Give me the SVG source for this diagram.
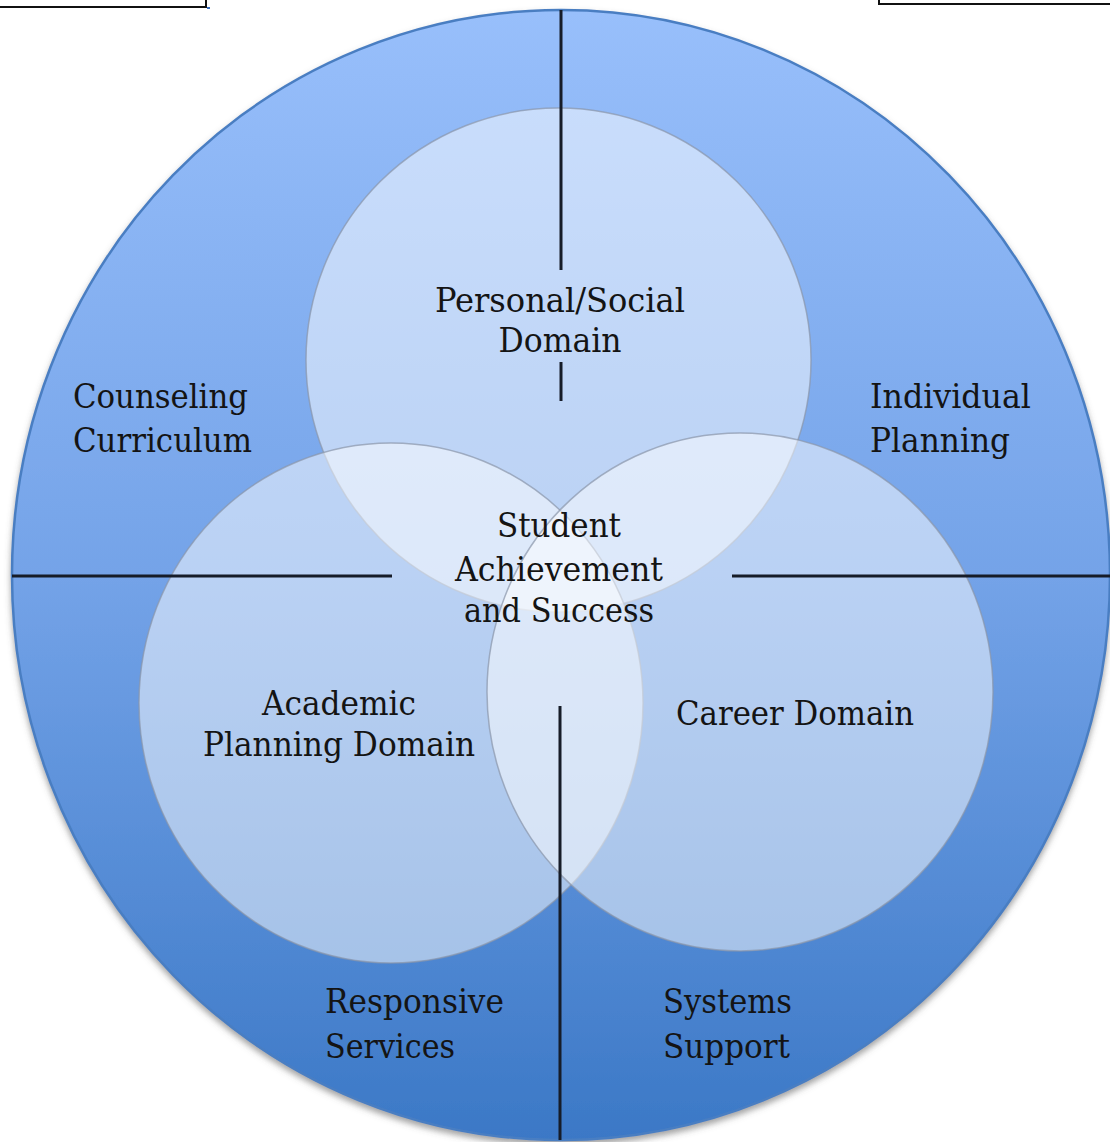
<svg xmlns="http://www.w3.org/2000/svg" width="1110" height="1142" viewBox="0 0 1110 1142">
  <defs>
    <linearGradient id="outerFill" x1="0" y1="0" x2="0" y2="1">
      <stop offset="0" stop-color="#98bffb"/>
      <stop offset="0.5" stop-color="#74a3e8"/>
      <stop offset="1" stop-color="#3b78c6"/>
    </linearGradient>
    <filter id="shadow" x="-5%" y="-5%" width="110%" height="112%">
      <feDropShadow dx="0" dy="4" stdDeviation="3" flood-color="#555" flood-opacity="0.55"/>
    </filter>
    <style>
      .lbl { font-family: "DejaVu Serif Condensed", "DejaVu Serif", "Liberation Serif", serif; font-size: 34px; fill: #141414; }
      .domain { fill: #ffffff; fill-opacity: 0.5; stroke: #8a96aa; stroke-opacity: 0.7; stroke-width: 1.5; }
      .divider { stroke: #161c28; stroke-width: 3; fill: none; }
      .tab { fill: #ffffff; stroke: #111; stroke-width: 2; }
    </style>
  </defs>

  <rect width="1110" height="1142" fill="#ffffff"/>

  <!-- corner tabs -->
  <rect class="tab" x="-4" y="-6" width="210" height="13"/>
  <rect x="207" y="7" width="3" height="2" fill="#3a6fc0"/>
  <rect class="tab" x="879" y="-6" width="236" height="10"/>

  <!-- program ring with its four quadrants -->
  <g id="program">
    <ellipse cx="561" cy="575" rx="549" ry="565" fill="url(#outerFill)" stroke="#4a7ec2" stroke-width="2.5" filter="url(#shadow)"/>
  </g>

  <!-- the three domains -->
  <g id="personal-social">
    <ellipse class="domain" cx="558.5" cy="360" rx="252.5" ry="252"/>
  </g>
  <g id="academic">
    <ellipse class="domain" cx="391" cy="703" rx="252" ry="260"/>
  </g>
  <g id="career">
    <ellipse class="domain" cx="740" cy="692" rx="253" ry="259"/>
  </g>

  <!-- quadrant dividers -->
  <g id="connectors">
    <line class="divider" x1="561" y1="10" x2="561" y2="270"/>
    <line class="divider" x1="561" y1="362" x2="561" y2="401"/>
    <line class="divider" x1="560" y1="706" x2="560" y2="1140"/>
    <line class="divider" x1="12" y1="576" x2="392" y2="576"/>
    <line class="divider" x1="732" y1="576" x2="1110" y2="576"/>
  </g>

  <!-- domain labels -->
  <g id="personal-social-label">
    <text class="lbl" x="560" y="312" text-anchor="middle" textLength="250" lengthAdjust="spacingAndGlyphs">Personal/Social</text>
    <text class="lbl" x="560" y="352" text-anchor="middle" textLength="123" lengthAdjust="spacingAndGlyphs">Domain</text>
  </g>
  <g id="academic-label">
    <text class="lbl" x="339" y="715" text-anchor="middle" textLength="154" lengthAdjust="spacingAndGlyphs">Academic</text>
    <text class="lbl" x="339" y="756" text-anchor="middle" textLength="272" lengthAdjust="spacingAndGlyphs">Planning Domain</text>
  </g>
  <g id="career-label">
    <text class="lbl" x="795" y="725" text-anchor="middle" textLength="238" lengthAdjust="spacingAndGlyphs">Career Domain</text>
  </g>
  <g id="center">
    <text class="lbl" x="559" y="537" text-anchor="middle" textLength="124" lengthAdjust="spacingAndGlyphs">Student</text>
    <text class="lbl" x="559" y="581" text-anchor="middle" textLength="208" lengthAdjust="spacingAndGlyphs">Achievement</text>
    <text class="lbl" x="559" y="622" text-anchor="middle" textLength="190" lengthAdjust="spacingAndGlyphs">and Success</text>
  </g>

  <!-- quadrant labels -->
  <g id="counseling-curriculum">
    <text class="lbl" x="73" y="408" textLength="175" lengthAdjust="spacingAndGlyphs">Counseling</text>
    <text class="lbl" x="73" y="452" textLength="179" lengthAdjust="spacingAndGlyphs">Curriculum</text>
  </g>
  <g id="individual-planning">
    <text class="lbl" x="870" y="408" textLength="161" lengthAdjust="spacingAndGlyphs">Individual</text>
    <text class="lbl" x="870" y="452" textLength="140" lengthAdjust="spacingAndGlyphs">Planning</text>
  </g>
  <g id="responsive-services">
    <text class="lbl" x="325" y="1013" textLength="179" lengthAdjust="spacingAndGlyphs">Responsive</text>
    <text class="lbl" x="325" y="1058" textLength="130" lengthAdjust="spacingAndGlyphs">Services</text>
  </g>
  <g id="systems-support">
    <text class="lbl" x="663" y="1013" textLength="129" lengthAdjust="spacingAndGlyphs">Systems</text>
    <text class="lbl" x="663" y="1058" textLength="127" lengthAdjust="spacingAndGlyphs">Support</text>
  </g>
</svg>
